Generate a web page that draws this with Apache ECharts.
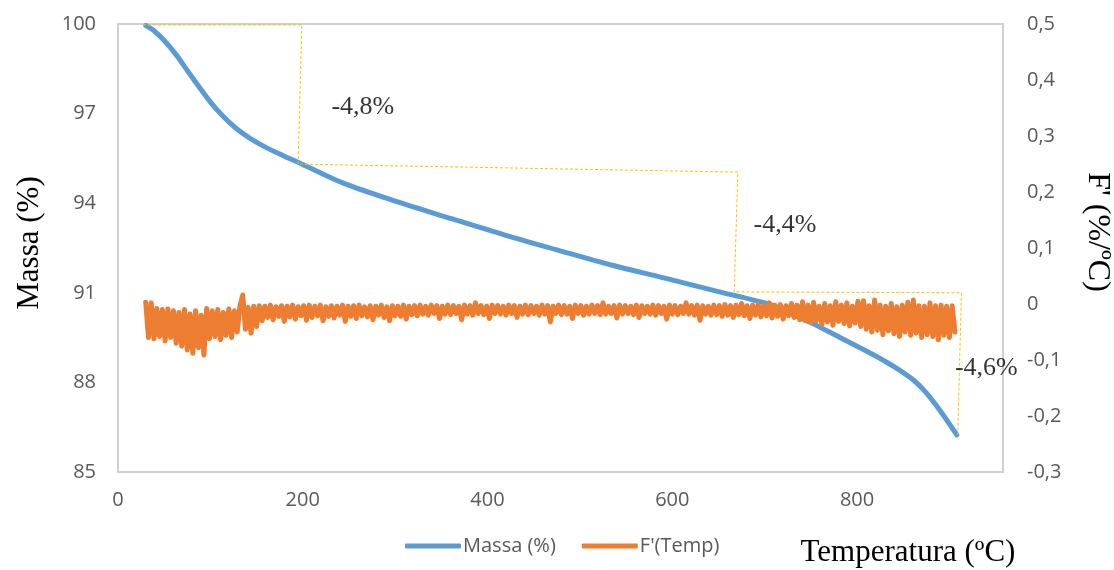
<!DOCTYPE html>
<html>
<head>
<meta charset="utf-8">
<script src="https://cdn.jsdelivr.net/npm/echarts@6/dist/echarts.min.js"></script>
<style>html,body{margin:0;padding:0;background:#fff}#c{width:1114px;height:570px}</style>
</head>
<body>
<div id="c"></div>
<script>
// ---- data ----
const xTicks = [0, 200, 400, 600, 800];
const leftTicks = [85, 88, 91, 94, 97, 100];
const rightTicks = [-0.3, -0.2, -0.1, 0, 0.1, 0.2, 0.3, 0.4, 0.5];

const massT = [30, 38, 50, 63.5, 76, 88.8, 101, 114, 128, 143, 160, 179, 197, 244, 302, 360, 418, 476, 534, 592, 650, 708, 730, 760, 790, 810, 825, 843, 861, 875, 890, 908];
const massV = [99.95, 99.80, 99.45, 98.95, 98.40, 97.85, 97.35, 96.90, 96.50, 96.17, 95.87, 95.59, 95.34, 94.67, 94.05, 93.49, 92.94, 92.43, 91.93, 91.49, 91.04, 90.59, 90.28, 89.85, 89.37, 89.05, 88.80, 88.47, 88.08, 87.65, 87.05, 86.24];

const fT = [
30,33,36,39,42,45,48,51,54,57,60,63,66,69,72,75,78,81,84,87,
90,93,96,99,102,105,108,111,114,117,120,123,126,129,132,135,138,141,144,147,
150,153,156,159,162,165,168,171,174,177,180,183,186,189,192,195,198,201,204,207,
210,213,216,219,222,225,228,231,234,237,240,243,246,249,252,255,258,261,264,267,
270,273,276,279,282,285,288,291,294,297,300,303,306,309,312,315,318,321,324,327,
330,333,336,339,342,345,348,351,354,357,360,363,366,369,372,375,378,381,384,387,
390,393,396,399,402,405,408,411,414,417,420,423,426,429,432,435,438,441,444,447,
450,453,456,459,462,465,468,471,474,477,480,483,486,489,492,495,498,501,504,507,
510,513,516,519,522,525,528,531,534,537,540,543,546,549,552,555,558,561,564,567,
570,573,576,579,582,585,588,591,594,597,600,603,606,609,612,615,618,621,624,627,
630,633,636,639,642,645,648,651,654,657,660,663,666,669,672,675,678,681,684,687,
690,693,696,699,702,705,708,711,714,717,720,723,726,729,732,735,738,741,744,747,
750,753,756,759,762,765,768,771,774,777,780,783,786,789,792,795,798,801,804,807,
810,813,816,819,822,825,828,831,834,837,840,843,846,849,852,855,858,861,864,867,
870,873,876,879,882,885,888,891,894,897,900,903,906];
const fV = [
0.003,-0.06,0.002,-0.062,-0.008,-0.058,-0.01,-0.066,-0.009,-0.06,-0.012,-0.07,-0.015,-0.075,-0.01,-0.082,-0.018,-0.088,-0.012,-0.078,
-0.02,-0.091,-0.008,-0.062,-0.012,-0.058,-0.01,-0.064,-0.015,-0.056,-0.009,-0.06,-0.012,-0.05,-0.004,0.016,-0.045,-0.006,-0.052,-0.004,
-0.04,-0.003,-0.03,-0.004,-0.024,-0.002,-0.028,-0.005,-0.022,-0.003,-0.031,-0.004,-0.023,-0.002,-0.027,-0.005,-0.021,-0.003,-0.029,-0.002,
-0.024,-0.004,-0.021,-0.002,-0.03,-0.005,-0.022,-0.003,-0.025,-0.004,-0.02,-0.002,-0.031,-0.004,-0.022,-0.003,-0.026,-0.002,-0.021,-0.005,
-0.023,-0.003,-0.028,-0.004,-0.02,-0.002,-0.024,-0.005,-0.03,-0.003,-0.021,-0.004,-0.022,-0.002,-0.027,-0.004,-0.019,-0.003,-0.021,-0.002,
-0.018,-0.004,-0.02,-0.002,-0.017,-0.003,-0.026,-0.004,-0.018,-0.002,-0.019,-0.003,-0.017,-0.004,-0.028,-0.002,-0.018,-0.003,-0.02,0.002,
-0.017,-0.003,-0.019,-0.004,-0.026,-0.002,-0.017,-0.003,-0.018,-0.004,-0.02,-0.002,-0.017,-0.003,-0.024,-0.004,-0.018,-0.002,-0.019,-0.003,
-0.017,-0.004,-0.02,-0.002,-0.018,-0.003,-0.032,-0.004,-0.017,-0.002,-0.019,-0.003,-0.018,-0.004,-0.026,-0.002,-0.017,-0.003,-0.02,-0.004,
-0.018,-0.002,-0.017,-0.003,-0.019,0.002,-0.018,-0.004,-0.017,-0.003,-0.025,-0.002,-0.018,-0.003,-0.017,-0.004,-0.019,-0.002,-0.024,-0.003,
-0.017,-0.004,-0.018,-0.002,-0.02,-0.003,-0.017,-0.004,-0.027,-0.002,-0.018,-0.003,-0.019,-0.004,-0.017,0.002,-0.018,-0.003,-0.02,-0.002,
-0.029,-0.003,-0.018,-0.004,-0.02,-0.002,-0.019,-0.003,-0.022,-0.001,-0.02,-0.003,-0.024,-0.002,-0.019,0.001,-0.021,-0.003,-0.026,-0.002,
-0.02,-0.001,-0.023,-0.003,-0.021,0.002,-0.025,-0.002,-0.022,-0.001,-0.027,-0.003,-0.021,0.001,-0.024,-0.002,-0.028,0.004,-0.03,-0.002,
-0.033,0.003,-0.03,-0.004,-0.036,0.001,-0.032,-0.003,-0.038,0.004,-0.031,-0.002,-0.035,0.002,-0.039,-0.004,-0.034,0.005,-0.04,0.006,
-0.045,-0.003,-0.05,0.007,-0.047,-0.002,-0.055,-0.004,-0.048,0.001,-0.053,-0.005,-0.058,-0.002,-0.05,0.003,-0.056,0.007,-0.052,-0.003,
-0.06,-0.004,-0.055,0.002,-0.058,-0.003,-0.064,-0.002,-0.056,-0.004,-0.06,-0.003,-0.05];

// step annotation (dashed guide) in temperature / mass units
const stepT = [27, 199, 195, 671, 667, 913, 909];
const stepM = [99.97, 99.97, 95.31, 95.04, 91.03, 91.0, 86.24];
const stepLabels = ['-4,8%', '-4,4%', '-4,6%'];
const stepLabelT = [265, 722, 940];
const stepLabelM = [97.22, 93.27, 88.48];

// ---- chart ----
const chart = echarts.init(document.getElementById('c'), null, {renderer: 'canvas'});
const zip = (a, b) => a.map((v, i) => [v, b[i]]);
const sans = "'Open Sans', 'Noto Sans', sans-serif";
const serif = "'Liberation Serif', 'DejaVu Serif', serif";
const gray = '#595959';

chart.setOption({
  animation: false,
  backgroundColor: '#fff',
  grid: {left: 118, right: 111, top: 24, bottom: 98, show: true, borderColor: '#D0D0D0', borderWidth: 2, backgroundColor: 'transparent'},
  xAxis: {
    type: 'value', min: 0, max: 958,
    axisLine: {show: false}, axisTick: {show: false}, splitLine: {show: false},
    axisLabel: {customValues: xTicks, margin: 18, color: gray, fontFamily: sans, fontSize: 20}
  },
  yAxis: [
    {
      type: 'value', min: 85, max: 100, position: 'left',
      axisLine: {show: false}, axisTick: {show: false}, splitLine: {show: false},
      axisLabel: {customValues: leftTicks, margin: 22, color: gray, fontFamily: sans, fontSize: 20}
    },
    {
      type: 'value', min: -0.3, max: 0.5, position: 'right',
      axisLine: {show: false}, axisTick: {show: false}, splitLine: {show: false},
      axisLabel: {
        customValues: rightTicks, margin: 24, color: gray, fontFamily: sans, fontSize: 20,
        formatter: v => Math.abs(v) < 1e-9 ? '0' : v.toFixed(1).replace('.', ',')
      }
    }
  ],
  legend: {
    data: ['Massa (%)', "F'(Temp)"],
    left: 400, top: 531,
    icon: 'roundRect', itemWidth: 56, itemHeight: 5, itemGap: 26,
    textStyle: {color: gray, fontFamily: sans, fontSize: 20, padding: [0, 0, 0, -3]}
  },
  graphic: [
    {type: 'text', x: 30, y: 243, rotation: Math.PI / 2,
      style: {text: 'Massa (%)', font: '31px ' + serif, fill: '#000', align: 'center', verticalAlign: 'middle'}},
    {type: 'text', x: 1097, y: 232, rotation: -Math.PI / 2,
      style: {text: "F' (%/ºC)", font: '32px ' + serif, fill: '#000', align: 'center', verticalAlign: 'middle'}},
    {type: 'text', x: 908, y: 553,
      style: {text: 'Temperatura (ºC)', font: '31px ' + serif, fill: '#000', align: 'center', verticalAlign: 'middle'}}
  ],
  series: [
    {
      name: 'Massa (%)', type: 'line', yAxisIndex: 0, data: zip(massT, massV),
      smooth: 0.3, symbol: 'none', color: '#5B9BD5',
      lineStyle: {width: 5, color: '#5B9BD5', cap: 'round', join: 'round'}, z: 2
    },
    {
      name: "F'(Temp)", type: 'line', yAxisIndex: 1, data: zip(fT, fV),
      symbol: 'none', color: '#ED7D31', sampling: null,
      lineStyle: {width: 5, color: '#ED7D31', cap: 'round', join: 'round'}, z: 3
    },
    {
      name: 'steps', type: 'line', yAxisIndex: 0, data: zip(stepT, stepM),
      symbol: 'none', lineStyle: {width: 1, color: '#FFC000', type: [3, 2]}, z: 4, silent: true
    },
    {
      name: 'stepLabels', type: 'scatter', yAxisIndex: 0, symbolSize: 0, z: 5, silent: true,
      data: stepLabelT.map((t, i) => ({value: [t, stepLabelM[i]], name: stepLabels[i]})),
      label: {show: true, position: 'inside', formatter: p => p.name, color: '#000', fontFamily: serif, fontSize: 26}
    }
  ]
});
</script>
</body>
</html>
